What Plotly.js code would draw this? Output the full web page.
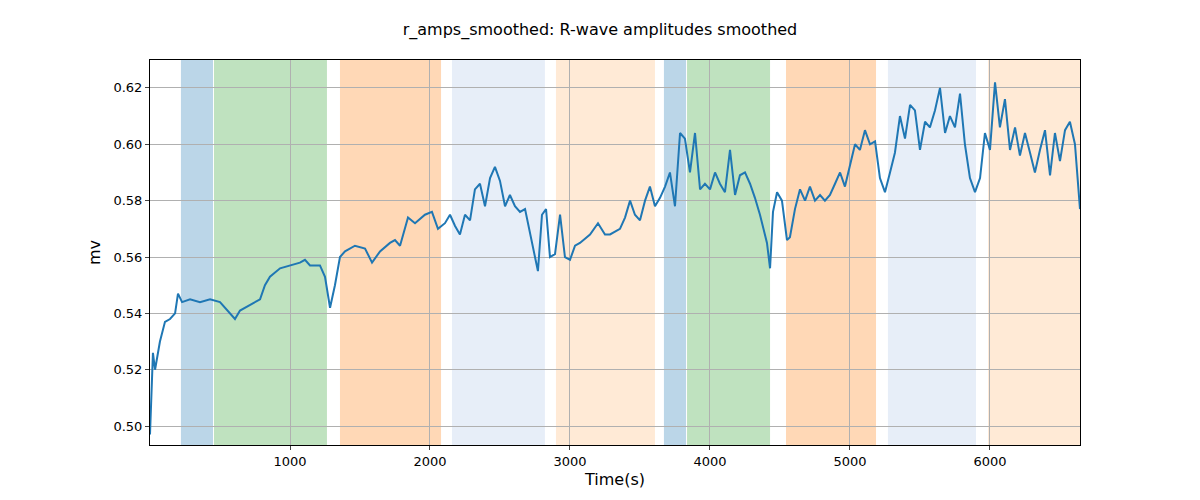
<!DOCTYPE html>
<html>
<head>
<meta charset="utf-8">
<script src="https://cdn.plot.ly/plotly-3.0.1.min.js"></script>
<style>body{margin:0}#chart{width:1200px;height:500px}</style>
</head>
<body>
<div id="chart"></div>
<script>
var times = [0,21,36,71,107,143,179,200,229,286,357,429,500,571,607,643,714,786,821,857,929,1000,1071,1107,1143,1214,1250,1286,1321,1357,1393,1464,1536,1586,1643,1714,1750,1786,1843,1893,1964,2014,2057,2107,2143,2179,2214,2250,2286,2321,2357,2393,2429,2464,2500,2536,2571,2607,2643,2679,2714,2750,2771,2800,2829,2857,2893,2929,2964,3000,3036,3071,3143,3200,3250,3286,3357,3393,3429,3464,3500,3536,3571,3607,3643,3679,3714,3750,3786,3821,3857,3893,3929,3964,4000,4036,4071,4107,4143,4179,4214,4250,4286,4321,4357,4407,4429,4450,4479,4514,4550,4571,4607,4643,4679,4714,4750,4786,4821,4857,4893,4929,4964,5000,5036,5071,5107,5143,5179,5214,5250,5286,5321,5357,5393,5429,5464,5500,5536,5571,5607,5643,5679,5714,5750,5786,5821,5857,5893,5929,5964,6000,6036,6071,6107,6143,6179,6214,6250,6286,6321,6357,6393,6429,6464,6500,6536,6571,6607,6643];
var amps = [0.497,0.526,0.52,0.53,0.537,0.538,0.54,0.547,0.544,0.545,0.544,0.545,0.544,0.54,0.538,0.541,0.543,0.545,0.55,0.553,0.556,0.557,0.558,0.559,0.557,0.557,0.553,0.542,0.55,0.56,0.562,0.564,0.563,0.558,0.562,0.565,0.566,0.564,0.574,0.572,0.575,0.576,0.57,0.572,0.575,0.571,0.568,0.575,0.573,0.584,0.586,0.578,0.588,0.592,0.587,0.578,0.582,0.578,0.576,0.577,0.568,0.56,0.555,0.575,0.577,0.56,0.561,0.575,0.56,0.559,0.564,0.565,0.568,0.572,0.568,0.568,0.57,0.574,0.58,0.575,0.573,0.58,0.585,0.578,0.581,0.585,0.59,0.578,0.604,0.602,0.59,0.604,0.584,0.586,0.584,0.59,0.586,0.583,0.598,0.582,0.589,0.59,0.586,0.581,0.575,0.565,0.556,0.576,0.583,0.58,0.566,0.567,0.577,0.584,0.58,0.585,0.58,0.582,0.58,0.582,0.586,0.59,0.585,0.592,0.6,0.598,0.605,0.6,0.601,0.588,0.583,0.59,0.597,0.61,0.602,0.614,0.612,0.598,0.608,0.606,0.612,0.62,0.604,0.61,0.606,0.618,0.6,0.588,0.583,0.588,0.604,0.598,0.622,0.606,0.616,0.598,0.606,0.596,0.604,0.597,0.59,0.598,0.605,0.589,0.604,0.594,0.605,0.608,0.6,0.577];
var bandStart = [221,457,1357,2157,2900,3671,3836,4543,5271,5986];
var bandEnd   = [450,1264,2079,2821,3607,3829,4429,5186,5900,6643];
var bandColor = ['#1f77b4','#2ca02c','#ff7f0e','#aec7e8','#ffbb78','#1f77b4','#2ca02c','#ff7f0e','#aec7e8','#ffbb78'];

var shapes = [];
for (var i = 0; i < bandStart.length; i++) {
  shapes.push({type:'rect', xref:'x', yref:'paper', x0:bandStart[i], x1:bandEnd[i], y0:0, y1:1,
    fillcolor:bandColor[i], opacity:0.3, line:{width:0}, layer:'below'});
}

var trace = {x: times, y: amps, mode: 'lines', type: 'scatter', line: {color: '#1f77b4', width: 2}};
var layout = {
  width: 1200, height: 500,
  margin: {l: 150, r: 120, t: 60, b: 55},
  paper_bgcolor: '#fff', plot_bgcolor: '#fff',
  font: {family: 'DejaVu Sans', size: 13, color: '#000'},
  title: {text: 'r_amps_smoothed: R-wave amplitudes smoothed', font: {size: 16}, y: 0.93, yanchor: 'bottom'},
  showlegend: false,
  shapes: shapes,
  xaxis: {range: [0, 6643], tickvals: [1000,2000,3000,4000,5000,6000], showgrid: true, gridcolor: '#b0b0b0',
    zeroline: false, showline: true, mirror: true, linecolor: '#000', ticks: 'outside', ticklen: 4,
    title: {text: 'Time(s)', standoff: 6}},
  yaxis: {range: [0.4933, 0.6299], tickvals: [0.50,0.52,0.54,0.56,0.58,0.60,0.62], tickformat: '.2f',
    showgrid: true, gridcolor: '#b0b0b0', zeroline: false, showline: true, mirror: true, linecolor: '#000',
    ticks: 'outside', ticklen: 4, title: {text: 'mv', standoff: 8}}
};
Plotly.newPlot('chart', [trace], layout, {displayModeBar: false});
</script>
</body>
</html>
